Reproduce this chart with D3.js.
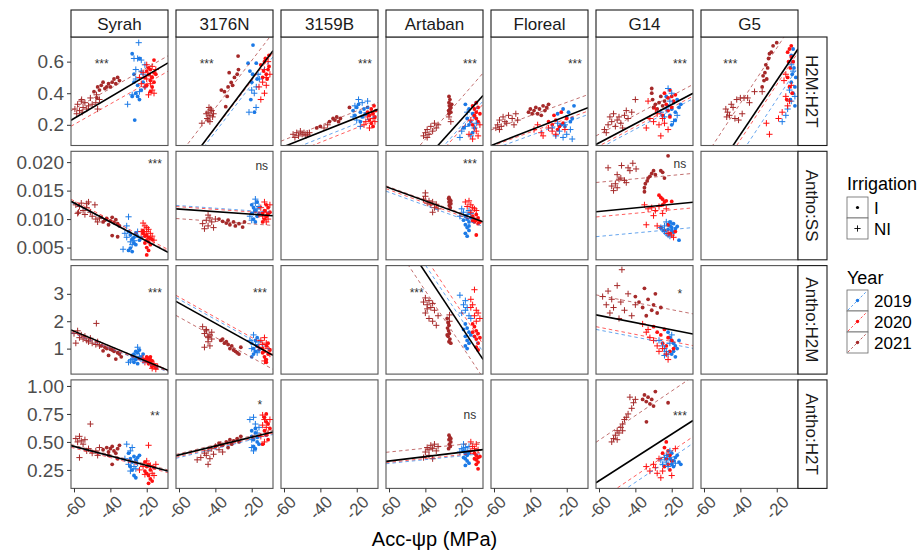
<!DOCTYPE html>
<html>
<head>
<meta charset="utf-8">
<script src="https://cdn.jsdelivr.net/npm/d3@7"></script>
<style>
  body { margin: 0; background: #fff; }
  svg { display: block; font-family: "Liberation Sans", Arial, sans-serif; }
</style>
</head>
<body>
<svg id="chart" width="922" height="553"></svg>
<script>
// ---- categories / ticks ----
const cultivars = ["Syrah", "3176N", "3159B", "Artaban", "Floreal", "G14", "G5"];
const traits = ["H2M:H2T", "Antho:SS", "Antho:H2M", "Antho:H2T"];
const years = ["2019", "2020", "2021"];
const irrigations = ["I", "NI"];
const xTicks = [-60, -40, -20];
const xDomain = [-61.65, -8.3];
const yDomains = [[0.069, 0.756], [0.00285, 0.0219], [0.07, 4.03], [0.085, 1.054]];
const yTicks = [[0.2, 0.4, 0.6], [0.005, 0.010, 0.015, 0.020], [1, 2, 3], [0.25, 0.50, 0.75, 1.00]];
const yTickFormats = [".1f", ".3f", "d", ".2f"];

// ---- points: [year, irrigation, "x,y x,y ..."] (x = Acc-Ψp) ----
const h2mh2t_Syrah = [
  ["2019", "I", "-28,.65 -26.6,.23 -24,.62 -27,.52 -25,.45 -23,.42 -26,.40 -28,.38 -25,.38 -24,.36 -22,.47 -27,.47 -21,.44"],
  ["2019", "NI", "-24.4,.72 -27,.62 -25,.62 -23,.61 -30.5,.33 -26,.49 -24,.41 -28,.39 -22,.52 -26,.55 -21,.58 -23,.54"],
  ["2020", "I", "-16,.61 -18,.55 -17,.50 -19,.52 -16,.47 -18,.48 -20,.45 -17,.44 -15,.52 -19,.56 -16,.53 -18,.41 -21,.50 -20,.54"],
  ["2020", "NI", "-22,.53 -20,.49 -18,.46 -17,.42 -19,.39 -16,.40 -21,.44 -23,.46 -18,.51 -15,.55 -20,.58 -17,.57 -24,.50"],
  ["2021", "I", "-49,.41 -47,.44 -45,.45 -44,.47 -43,.43 -42,.44 -41,.46 -40,.44 -39,.47 -38,.49 -37,.46 -36,.50 -35,.48 -46,.42 -47.4,.37"],
  ["2021", "NI", "-59.5,.30 -58,.33 -57,.29 -56,.35 -55,.31 -54,.34 -53,.30 -52,.32 -51,.37 -50,.33 -48,.34 -47,.30 -46,.36 -58.5,.27 -55.5,.28 -55.8,.36 -47.6,.39"]
];
const h2mh2t_3176N = [
  ["2019", "I", "-19.3,.705 -22,.59 -17.5,.59 -20.5,.36 -18.5,.28 -20,.47 -19.5,.52 -17,.49 -21,.54"],
  ["2019", "NI", "-21.5,.28 -17.6,.31 -18.6,.40 -15.8,.49 -17.5,.44 -20,.42 -16.5,.52"],
  ["2020", "I", "-15,.58 -13,.60 -11,.55 -12,.52 -14,.50 -10.5,.57 -12.5,.62 -13.5,.54 -11.5,.49 -10.5,.64"],
  ["2020", "NI", "-14,.47 -12,.45 -16,.44 -13,.55 -11,.60 -15,.36 -12,.50 -10,.52 -13,.40"],
  ["2021", "I", "-36.7,.42 -32.4,.53 -27.5,.635 -27.3,.55 -33.5,.38 -34.3,.315 -31.3,.468 -30.5,.45 -33,.44 -29.5,.50 -28,.52 -35,.41"],
  ["2021", "NI", "-44,.28 -43,.26 -42,.29 -44.5,.24 -43,.22 -41.5,.25 -42.5,.30 -45,.27 -43.5,.31 -47.4,.21 -41,.27 -44,.23"]
];
const h2mh2t_3159B = [
  ["2019", "I", "-20,.31 -18,.28 -16,.30 -21,.26 -17,.25 -19,.33 -15,.27 -22,.29 -14,.31 -18,.22"],
  ["2019", "NI", "-19,.36 -17,.34 -21,.32 -16,.26 -20,.23 -14,.35 -18,.19 -22,.25"],
  ["2020", "I", "-12,.30 -11,.27 -10,.25 -13,.23 -12,.21 -10.5,.32 -11,.19 -14,.28 -9.5,.29 -13,.26"],
  ["2020", "NI", "-15,.22 -13,.18 -11,.24 -16,.20 -12,.28 -10,.22 -14,.25"],
  ["2021", "I", "-35,.22 -33,.24 -32,.23 -31,.25 -30,.22 -29,.24 -24,.31 -42,.18 -40,.19"],
  ["2021", "NI", "-55,.14 -53,.15 -52,.13 -51,.16 -50,.14 -49,.15 -48,.13 -47,.14 -54,.12 -46,.15 -38,.18 -36,.20"]
];
const h2mh2t_Artaban = [
  ["2019", "I", "-18,.33 -16,.30 -14,.27 -17,.24 -15,.22 -13,.25 -16,.20 -19,.18 -12,.34 -14,.15"],
  ["2019", "NI", "-20,.16 -18,.19 -15,.13 -12,.21 -17,.28 -13,.18 -21,.12"],
  ["2020", "I", "-14,.32 -13,.30 -12,.28 -11,.31 -13,.26 -12,.24 -11,.22 -14,.20 -10,.27 -12,.34 -13,.18"],
  ["2020", "NI", "-16,.14 -14,.11 -12,.16 -10,.20 -15,.23 -11,.13"],
  ["2021", "I", "-27,.38 -26.5,.36 -27,.34 -26.8,.32 -26.5,.30 -27.2,.29 -26,.28 -27,.27 -25.5,.33 -26,.31"],
  ["2021", "NI", "-41,.13 -40,.15 -39,.17 -38,.14 -37,.19 -36,.16 -35,.21 -34,.18 -33,.20 -39,.12 -27,.25 -26,.22"]
];
const h2mh2t_Floreal = [
  ["2019", "I", "-25,.27 -22,.30 -20,.25 -18,.22 -23,.20 -19,.28 -21,.19 -17,.24 -16,.32"],
  ["2019", "NI", "-28,.18 -26,.13 -24,.16 -22,.12 -20,.14 -18,.17 -17,.11 -25,.21 -21,.20"],
  ["2020", "I", "-30,.22 -28,.20 -26,.23 -24,.19 -22,.21 -20,.24 -25,.17 -27,.26 -23,.28"],
  ["2020", "NI", "-38,.17 -36,.20 -34,.15 -33,.13 -30,.18 -28,.16 -26,.14 -21,.17"],
  ["2021", "I", "-41,.28 -40,.30 -38,.29 -37,.31 -36,.27 -35,.30 -33,.32 -32,.29 -31,.31 -30,.33 -34,.26 -39,.27"],
  ["2021", "NI", "-59,.18 -58,.20 -57,.23 -56,.19 -55,.25 -54,.22 -53,.21 -52,.26 -50,.24 -49,.20 -48,.27 -47,.23 -57,.17"]
];
const h2mh2t_G14 = [
  ["2019", "I", "-22,.32 -20,.30 -18,.28 -19,.34 -17,.36 -21,.26 -16,.31 -23,.38 -18,.23 -20,.20 -15,.33"],
  ["2019", "NI", "-26,.28 -24,.25 -22,.43 -20,.40 -19,.22 -23,.30 -17,.26 -21,.35"],
  ["2020", "I", "-24,.40 -22,.37 -21,.42 -20,.38 -19,.35 -23,.33 -22,.29 -25,.26 -20,.31 -18,.39 -21,.25"],
  ["2020", "NI", "-34,.18 -32,.24 -30,.22 -28,.27 -27,.20 -26,.13 -24,.21 -22,.17 -29,.30 -25,.24 -33,.35"],
  ["2021", "I", "-31,.43 -31,.40 -30.5,.36 -29,.33 -28,.30 -27,.34 -26,.38 -25,.32 -30,.31 -24,.35"],
  ["2021", "NI", "-57,.17 -55,.20 -54,.25 -53,.22 -52,.27 -51,.19 -50,.23 -49,.25 -48,.21 -47,.18 -46,.26 -44,.24 -42,.28 -40,.36 -56,.15 -45,.29"]
];
const h2mh2t_G5 = [
  ["2019", "I", "-12,.64 -11,.60 -10.5,.56 -11.5,.52 -12,.47 -10,.44 -11,.40 -12.5,.36 -10,.32 -11,.68 -9.5,.50"],
  ["2019", "NI", "-12,.58 -11,.54 -13,.42 -14,.30 -15,.26 -17,.22 -10,.38 -12,.35"],
  ["2020", "I", "-14,.66 -13,.68 -12,.63 -13.5,.60 -12.5,.56 -14,.50 -13,.44 -11.5,.40 -14.5,.36 -12,.70 -11,.60"],
  ["2020", "NI", "-16,.48 -15,.38 -14,.32 -19,.24 -17,.28 -13,.35 -12,.45 -15,.52 -24,.14 -25.7,.21"],
  ["2021", "I", "-28,.44 -27,.48 -26.5,.53 -26,.58 -25,.56 -24.5,.62 -24,.65 -23,.66 -22,.70 -27.5,.51 -25.5,.49 -20,.72"],
  ["2021", "NI", "-48,.30 -47,.28 -46,.26 -45,.33 -44,.31 -43,.24 -42,.36 -40,.37 -38,.37 -36,.37 -35,.34 -41,.23 -47.5,.25 -39,.27 -32.2,.41 -28,.41"]
];

const anthoss_Syrah = [
  ["2019", "I", "-30,.0078 -29,.0072 -27,.0068 -26,.0075 -28,.0065 -25,.0070 -24,.0063 -27,.0058 -29,.0049 -28,.0043 -26,.0055 -23,.0067 -30,.0045"],
  ["2019", "NI", "-30,.0104 -32,.0075 -31,.0068 -29,.0060 -33,.0047 -27,.0062 -28,.0055 -25,.0078 -31,.0088"],
  ["2020", "I", "-22,.0075 -21,.0070 -20,.0072 -19,.0068 -18,.0066 -20,.0063 -19,.0060 -21,.0058 -18,.0055 -20,.0050 -19,.0045 -20,.0037 -17,.0064 -22,.0080"],
  ["2020", "NI", "-22,.0093 -21,.0088 -20,.0085 -19,.0082 -23,.0078 -18,.0075 -21,.0073 -17,.0070 -20,.0078 -16,.0063"],
  ["2021", "I", "-45,.0103 -43,.0098 -42,.0101 -40,.0097 -38,.0094 -37,.0099 -36,.0092 -35,.0088 -39,.0103 -41,.0090 -39,.0071 -36,.0069 -44,.0095"],
  ["2021", "NI", "-59,.0125 -58,.0110 -57,.0122 -56,.0128 -55,.0115 -54,.0108 -53,.0120 -52,.0130 -51,.0112 -50,.0105 -48,.0100 -47,.0095 -46,.0102 -53,.0127 -57.5,.0112 -48.5,.0125"]
];
const anthoss_3176N = [
  ["2019", "I", "-20,.0110 -19,.0120 -18,.0115 -17,.0105 -19,.0100 -18,.0095 -16,.0110 -20,.0125 -17,.0130"],
  ["2019", "NI", "-21,.0105 -19,.0112 -18,.0128 -17,.0118 -20,.0098 -16,.0122 -18,.0135"],
  ["2020", "I", "-14,.0110 -13,.0115 -12,.0105 -11,.0120 -13,.0100 -12,.0125 -14,.0095 -11,.0108 -10,.0112"],
  ["2020", "NI", "-15,.0120 -13,.0130 -12,.0112 -11,.0100 -14,.0105 -10,.0125 -12,.0095 -16,.0108"],
  ["2021", "I", "-38,.0100 -36,.0096 -34,.0093 -32,.0090 -30,.0095 -29,.0088 -27,.0092 -25,.0086 -33,.0098 -24,.0095"],
  ["2021", "NI", "-47,.0092 -45,.0098 -44,.0088 -43,.0102 -42,.0095 -41,.0085 -40,.0100 -44,.0107 -46,.0083"]
];
const anthoss_Artaban = [
  ["2019", "I", "-18,.0105 -17,.0100 -16,.0095 -18,.0090 -17,.0085 -16,.0080 -18,.0075 -17,.0070 -15,.0102 -19,.0098 -16,.0088"],
  ["2019", "NI", "-20,.0118 -19,.0112 -17,.0108 -15,.0110 -16,.0115 -21,.0105"],
  ["2020", "I", "-14,.0105 -13,.0100 -12,.0098 -11,.0102 -13,.0095 -12,.0108 -14,.0097 -10,.0095 -11,.0092 -12,.0072"],
  ["2020", "NI", "-18,.0130 -16,.0132 -15,.0125 -14,.0120 -13,.0118 -12,.0115 -15,.0112 -17,.0122"],
  ["2021", "I", "-27,.0138 -26.5,.0134 -27,.0130 -26,.0127 -26.8,.0124 -26.3,.0120 -27.2,.0136 -26,.0132"],
  ["2021", "NI", "-41,.0135 -40,.0140 -39,.0128 -38,.0132 -37,.0125 -36,.0130 -35,.0120 -34,.0126 -33,.0118 -40,.0146 -36,.0112"]
];
const anthoss_G14 = [
  ["2019", "I", "-22,.0090 -21,.0088 -20,.0085 -19,.0092 -18,.0083 -20,.0080 -19,.0077 -21,.0095 -17,.0087 -16,.0063 -22,.0082"],
  ["2019", "NI", "-26,.0085 -25,.0082 -24,.0078 -23,.0075 -22,.0072 -24,.0088 -21,.0070 -20,.0092 -23,.0095"],
  ["2020", "I", "-27,.0142 -26,.0138 -25,.0135 -24,.0130 -25,.0125 -23,.0132 -20,.0131 -26,.0085 -24,.0080 -21,.0075 -18,.0078 -22,.0090"],
  ["2020", "NI", "-35,.0125 -33,.0118 -31,.0120 -29,.0115 -27,.0122 -25,.0110 -23,.0118 -30,.0106 -34,.0090 -28,.0088 -22,.0075 -19,.0068 -20,.0072"],
  ["2021", "I", "-35,.0155 -34.5,.0162 -33.5,.0167 -33,.0172 -32,.0175 -31,.0180 -30,.0185 -29,.0178 -26,.0185 -25,.0182 -22,.0211 -24,.0172 -35,.0148"],
  ["2021", "NI", "-53,.0158 -51,.0162 -52,.0150 -50,.0155 -49,.0170 -48,.0172 -47.6,.0194 -46,.0168 -44,.0190 -43,.0185 -41.4,.0198 -39.6,.0188 -55,.0190 -50,.0178 -45,.0164"]
];

const anthoh2m_Syrah = [
  ["2019", "I", "-28,0.75 -27,0.80 -26,0.90 -25,0.85 -24,0.95 -23,0.70 -26,0.60 -27,0.50 -25,0.45 -22,0.80 -24,0.65"],
  ["2019", "NI", "-29,0.55 -28,0.60 -30,0.50 -27,0.65 -26,0.70 -25,1.05 -24,0.72 -22,0.55"],
  ["2020", "I", "-20,0.70 -19,0.65 -18,0.60 -20,0.55 -17,0.55 -18,0.50 -19,0.45 -16,0.40 -17,0.35 -15,0.30 -21,0.60 -18,0.70"],
  ["2020", "NI", "-22,0.65 -20,0.60 -19,0.50 -18,0.42 -16,0.45 -14,0.35 -15,0.25 -21,0.50 -17,0.28"],
  ["2021", "I", "-45,1.10 -43,1.05 -42,1.00 -40,0.98 -39,0.95 -38,0.90 -36,0.85 -35,0.80 -41,0.75 -37,0.62 -34,0.70 -44,0.92"],
  ["2021", "NI", "-60,1.55 -59,1.20 -58,1.65 -57,1.40 -56,1.50 -55,1.35 -54,1.45 -53,1.30 -52,1.25 -51,1.38 -50,1.20 -48,1.15 -47,1.25 -46,1.10 -47.7,1.92"]
];
const anthoh2m_3176N = [
  ["2019", "I", "-20,1.20 -19,1.00 -18,0.90 -17,1.10 -19,0.80 -18,1.30 -16,0.95 -20,0.70 -17,1.40"],
  ["2019", "NI", "-21,1.30 -19,1.50 -18,1.15 -17,0.85 -20,1.00 -16,1.25"],
  ["2020", "I", "-14,1.00 -13,0.90 -12,1.10 -11,0.80 -13,0.70 -12,0.60 -14,0.85 -11,1.20 -10,0.95 -12,0.50"],
  ["2020", "NI", "-15,1.30 -13,1.40 -12,1.20 -11,1.00 -14,1.15 -10,0.80 -13,0.55 -16,1.05"],
  ["2021", "I", "-37,1.30 -36,1.35 -35,1.20 -33,1.15 -32,1.00 -30,0.95 -29,0.90 -28,0.85 -27,0.80 -26,1.05 -31,1.10 -34,1.25"],
  ["2021", "NI", "-47,1.80 -46,1.55 -45,1.65 -44,1.40 -43,1.50 -42,1.35 -44,1.25 -43,1.10 -45,1.70 -42,1.60 -44,1.45 -46,1.05"]
];
const anthoh2m_Artaban = [
  ["2019", "I", "-18,1.90 -17,1.75 -16,1.60 -18,1.45 -17,1.30 -16,1.20 -18,1.10 -17,1.00 -19,1.70 -15,1.50"],
  ["2019", "NI", "-21,2.95 -19,2.60 -18,2.40 -17,2.50 -16,2.20 -20,2.30 -18,2.75 -15,2.10"],
  ["2020", "I", "-14,1.90 -13,1.80 -12,1.65 -11,1.55 -13,1.45 -12,1.35 -11,1.20 -12,1.05 -10,1.40 -14,1.60 -11,0.95"],
  ["2020", "NI", "-13,3.15 -15,2.80 -14,2.60 -12,2.40 -11,2.30 -13,2.20 -12,2.00 -15,2.50 -10,2.10"],
  ["2021", "I", "-28,2.10 -27.5,1.95 -27,1.85 -27.8,1.75 -27.2,1.65 -26.8,1.55 -27.5,1.45 -26.5,1.35 -27,1.25 -26,1.20 -28,1.50"],
  ["2021", "NI", "-41,2.70 -40,2.85 -39,2.60 -38,2.75 -37,2.50 -36,2.65 -35,2.40 -40,2.30 -38,2.10 -36,2.00 -34,1.85 -33,2.20 -39,2.45 -26.7,2.23 -26.7,2.00"]
];
const anthoh2m_G14 = [
  ["2019", "I", "-22,1.60 -21,1.40 -20,1.30 -19,1.20 -18,1.10 -17,1.00 -19,0.90 -20,0.80 -16,1.30 -18,0.70"],
  ["2019", "NI", "-27,1.30 -25,1.10 -24,1.00 -23,0.90 -22,0.80 -21,1.20 -20,1.50 -24,0.75"],
  ["2020", "I", "-30,1.80 -28,1.60 -26,1.50 -24,1.70 -22,1.40 -25,1.20 -23,1.10 -20,1.30 -21,0.90 -19,1.00"],
  ["2020", "NI", "-36,1.90 -34,1.60 -32,1.40 -30,1.30 -28,1.10 -27,0.90 -25,1.00 -23,0.80 -22,0.60 -33,1.70"],
  ["2021", "I", "-40,2.90 -38,2.70 -36,2.50 -35,3.20 -33,2.80 -31,2.40 -30,2.60 -28,2.30 -26,2.50 -34,2.20 -29,3.00"],
  ["2021", "NI", "-58,2.90 -56,2.60 -55,3.10 -53,2.80 -52,2.50 -50,3.30 -48,2.70 -47.4,3.88 -46,2.40 -44,3.00 -42,2.20 -40,2.60 -54,2.30 -49,2.10"]
];

const anthoh2t_Syrah = [
  ["2019", "I", "-30,.40 -29,.35 -28,.32 -27,.37 -26,.34 -25,.36 -28,.25 -27,.20 -26,.18 -29,.28 -24,.38"],
  ["2019", "NI", "-31,.48 -30,.30 -29,.42 -28,.45 -27,.28 -26,.26 -25,.31 -32,.35 -29,.24"],
  ["2020", "I", "-21,.32 -20,.28 -19,.30 -18,.25 -20,.22 -19,.20 -18,.17 -17,.15 -19,.13 -16,.27 -21,.24"],
  ["2020", "NI", "-24,.25 -22,.28 -21,.21 -20,.33 -18,.29 -17,.22 -19,.47 -16,.20 -15,.30"],
  ["2021", "I", "-44,.43 -42,.45 -41,.41 -40,.44 -39,.46 -38,.42 -37,.40 -36,.44 -35,.47 -39,.30 -41,.38 -36,.35"],
  ["2021", "NI", "-59,.53 -58,.50 -57,.55 -56,.51 -55,.48 -54,.52 -57,.36 -52,.44 -50,.40 -48,.42 -47,.38 -46,.45 -51,.66 -53,.42"]
];
const anthoh2t_3176N = [
  ["2019", "I", "-20,.55 -19,.52 -18,.58 -17,.50 -19,.46 -18,.62 -17,.54 -16,.48 -20,.60 -18,.44"],
  ["2019", "NI", "-21,.70 -19,.72 -18,.66 -17,.58 -20,.45 -19,.42 -16,.63 -20,.52"],
  ["2020", "I", "-13,.72 -12,.68 -11,.66 -13,.60 -12,.56 -11,.52 -14,.48 -10,.62 -12,.75"],
  ["2020", "NI", "-14,.74 -13,.70 -12,.63 -11,.58 -15,.55 -14,.65 -10,.70 -13,.50"],
  ["2021", "I", "-40,.46 -38,.49 -36,.47 -34,.50 -32,.52 -31,.48 -30,.51 -28,.53 -27,.50 -26,.55 -33,.45"],
  ["2021", "NI", "-48,.36 -46,.40 -45,.38 -44,.42 -43,.35 -42,.44 -41,.39 -40,.46 -38,.43 -37,.48 -36,.41 -44,.30 -50,.34"]
];
const anthoh2t_Artaban = [
  ["2019", "I", "-19,.42 -18,.40 -17,.38 -18,.35 -17,.33 -16,.31 -18,.29 -19,.36 -16,.40"],
  ["2019", "NI", "-20,.44 -19,.48 -18,.45 -17,.42 -16,.46 -21,.41"],
  ["2020", "I", "-13,.40 -12,.38 -11,.36 -12,.34 -11,.32 -13,.35 -10,.37 -12,.30 -11,.26"],
  ["2020", "NI", "-15,.50 -14,.46 -13,.44 -12,.48 -15,.42 -11,.43"],
  ["2021", "I", "-27,.56 -26.5,.54 -27,.52 -26,.50 -26.8,.48 -26.3,.46 -27.2,.44 -26,.53"],
  ["2021", "NI", "-40,.41 -39,.45 -38,.43 -37,.47 -36,.44 -35,.48 -34,.42 -33,.46 -38,.38 -36,.35 -41,.36"]
];
const anthoh2t_G14 = [
  ["2019", "I", "-22,.38 -21,.35 -20,.40 -19,.33 -18,.36 -20,.30 -17,.38 -16,.32 -19,.28 -15,.30"],
  ["2019", "NI", "-26,.34 -25,.30 -24,.36 -23,.32 -22,.28 -21,.42 -20,.34 -18,.31 -23,.38"],
  ["2020", "I", "-24,.45 -23,.50 -22,.42 -21,.38 -23,.35 -22,.30 -24,.28 -21,.25 -25,.40 -20,.33"],
  ["2020", "NI", "-34,.28 -32,.24 -30,.30 -28,.22 -27,.35 -26,.18 -25,.24 -20,.20 -18,.44 -29,.27"],
  ["2021", "I", "-36,.88 -35,.92 -34,.86 -33,.90 -32,.84 -31,.88 -30,.82 -33.9,.68 -22,.85 -29,.95"],
  ["2021", "NI", "-53,.50 -52,.53 -51,.56 -50,.60 -49,.58 -48,.63 -47,.66 -46,.70 -45,.72 -44,.75 -42,.80 -41,.85 -40,.88 -50,.52 -47,.60 -43,.90"]
];

// ---- fitted lines: [group, intercept, slope]; "all" = overall fit ----
const fit_h2mh2t_Syrah = [["2020", 0.593, 0.00652], ["2021", 0.691, 0.00652], ["all", 0.649, 0.00682]];
const fit_h2mh2t_3176N = [["2019", 0.755, 0.015], ["2020", 0.78, 0.015], ["2021", 0.907, 0.015], ["all", 0.796, 0.0153]];
const fit_h2mh2t_3159B = [["2019", 0.30, 0.0046], ["2020", 0.273, 0.0046], ["2021", 0.38, 0.0046], ["all", 0.336, 0.00456]];
const fit_h2mh2t_Artaban = [["2019", 0.46, 0.0132], ["2020", 0.44, 0.0132], ["2021", 0.637, 0.0132], ["all", 0.491, 0.01275]];
const fit_h2mh2t_Floreal = [["2019", 0.30, 0.0042], ["2020", 0.322, 0.0042], ["2021", 0.426, 0.0042], ["all", 0.346, 0.0045]];
const fit_h2mh2t_G14 = [["2019", 0.416, 0.0061], ["2020", 0.432, 0.0061], ["2021", 0.506, 0.0061], ["all", 0.450, 0.00607]];
const fit_h2mh2t_G5 = [["2019", 0.71, 0.0175], ["2020", 0.804, 0.0175], ["2021", 1.036, 0.0175], ["all", 0.822, 0.0171]];
const fit_anthoss_Syrah = [["2019", 0.0028, -0.000165], ["2020", 0.0033, -0.000165], ["2021", 0.0030, -0.000165], ["all", 0.00277, -0.000168]];
const fit_anthoss_3176N = [["2019", 0.0110, -0.0000227], ["2020", 0.0108, -0.0000227], ["2021", 0.0087, -0.0000227], ["all", 0.0104, -0.0000227]];
const fit_anthoss_Artaban = [["2019", 0.00777, -0.0001157], ["2020", 0.0082, -0.0001157], ["2021", 0.0087, -0.0001157], ["all", 0.00856, -0.0001157]];
const fit_anthoss_G14 = [["2019", 0.00876, 0.00003], ["2020", 0.01222, 0.00003], ["2021", 0.01827, 0.00003], ["all", 0.01322, 0.0000312]];
const fit_anthoh2m_Syrah = [["2019", -0.08, -0.0272], ["2020", -0.06, -0.0272], ["2021", 0.0, -0.0272], ["all", -0.024, -0.02766]];
const fit_anthoh2m_3176N = [["2019", 0.588, -0.0369], ["2020", 0.668, -0.0369], ["2021", -0.063, -0.0369], ["all", 0.449, -0.0369]];
const fit_anthoh2m_Artaban = [["2019", 0.05, -0.1], ["2020", 0.33, -0.1], ["2021", -0.891, -0.1], ["all", -0.225, -0.1001]];
const fit_anthoh2m_G14 = [["2019", 0.90, -0.013], ["2020", 1.00, -0.013], ["2021", 2.16, -0.013], ["all", 1.427, -0.01304]];
const fit_anthoh2t_Syrah = [["2019", 0.20, -0.00425], ["2020", 0.19, -0.00425], ["2021", 0.215, -0.00425], ["all", 0.205, -0.00425]];
const fit_anthoh2t_3176N = [["2019", 0.60, 0.004], ["2020", 0.61, 0.004], ["2021", 0.635, 0.004], ["all", 0.622, 0.00397]];
const fit_anthoh2t_Artaban = [["2019", 0.41, 0.0017], ["2020", 0.42, 0.0017], ["2021", 0.512, 0.0017], ["all", 0.448, 0.00198]];
const fit_anthoh2t_G14 = [["2019", 0.579, 0.011], ["2020", 0.638, 0.011], ["2021", 1.175, 0.011], ["all", 0.778, 0.01042]];

// ---- significance labels: [trait, cultivar, text, x, y] ----
const sigLabels = [
  ["H2M:H2T", "Syrah", "***", -44.8, 0.562], ["H2M:H2T", "3176N", "***", -44.8, 0.562],
  ["H2M:H2T", "3159B", "***", -15.5, 0.562], ["H2M:H2T", "Artaban", "***", -15.5, 0.562],
  ["H2M:H2T", "Floreal", "***", -15.5, 0.562], ["H2M:H2T", "G14", "***", -15.5, 0.562],
  ["H2M:H2T", "G5", "***", -45.5, 0.562],
  ["Antho:SS", "Syrah", "***", -15.5, 0.0189], ["Antho:SS", "3176N", "ns", -14.5, 0.0186],
  ["Antho:SS", "Artaban", "***", -15.5, 0.0189], ["Antho:SS", "G14", "ns", -15.5, 0.0189],
  ["Antho:H2M", "Syrah", "***", -15.5, 2.9], ["Antho:H2M", "3176N", "***", -15.5, 2.9],
  ["Antho:H2M", "Artaban", "***", -44.8, 2.9], ["Antho:H2M", "G14", "*", -15.5, 2.85],
  ["Antho:H2T", "Syrah", "**", -15.5, 0.70], ["Antho:H2T", "3176N", "*", -15.5, 0.795],
  ["Antho:H2T", "Artaban", "ns", -15.5, 0.705], ["Antho:H2T", "G14", "***", -15.5, 0.70]
];

const panels = {
  "H2M:H2T|Syrah": [h2mh2t_Syrah, fit_h2mh2t_Syrah],
  "H2M:H2T|3176N": [h2mh2t_3176N, fit_h2mh2t_3176N],
  "H2M:H2T|3159B": [h2mh2t_3159B, fit_h2mh2t_3159B],
  "H2M:H2T|Artaban": [h2mh2t_Artaban, fit_h2mh2t_Artaban],
  "H2M:H2T|Floreal": [h2mh2t_Floreal, fit_h2mh2t_Floreal],
  "H2M:H2T|G14": [h2mh2t_G14, fit_h2mh2t_G14],
  "H2M:H2T|G5": [h2mh2t_G5, fit_h2mh2t_G5],
  "Antho:SS|Syrah": [anthoss_Syrah, fit_anthoss_Syrah],
  "Antho:SS|3176N": [anthoss_3176N, fit_anthoss_3176N],
  "Antho:SS|Artaban": [anthoss_Artaban, fit_anthoss_Artaban],
  "Antho:SS|G14": [anthoss_G14, fit_anthoss_G14],
  "Antho:H2M|Syrah": [anthoh2m_Syrah, fit_anthoh2m_Syrah],
  "Antho:H2M|3176N": [anthoh2m_3176N, fit_anthoh2m_3176N],
  "Antho:H2M|Artaban": [anthoh2m_Artaban, fit_anthoh2m_Artaban],
  "Antho:H2M|G14": [anthoh2m_G14, fit_anthoh2m_G14],
  "Antho:H2T|Syrah": [anthoh2t_Syrah, fit_anthoh2t_Syrah],
  "Antho:H2T|3176N": [anthoh2t_3176N, fit_anthoh2t_3176N],
  "Antho:H2T|Artaban": [anthoh2t_Artaban, fit_anthoh2t_Artaban],
  "Antho:H2T|G14": [anthoh2t_G14, fit_anthoh2t_G14]
};

// ---- layout ----
const PL = 71, PT = 37, PW = 97, PH = 108.5, STEPX = 105, STEPY = 114.3;
const STRIP_TOP = 10, STRIP_R = 29;
const color = d3.scaleOrdinal().domain(years).range(["#1c7ae6", "#ff1010", "#a52a2a"]);
const parsePts = s => s.trim().split(/\s+/).map(p => p.split(",").map(Number));
const plusPath = "M-3.1,0H3.1M0,-3.1V3.1";

const svg = d3.select("#chart");
const x = d3.scaleLinear().domain(xDomain).range([0, PW]);

traits.forEach((trait, r) => {
  const y = d3.scaleLinear().domain(yDomains[r]).range([PH, 0]);
  const top = PT + r * STEPY;

  cultivars.forEach((cv, c) => {
    const left = PL + c * STEPX;
    const g = svg.append("g").attr("transform", `translate(${left},${top})`);
    g.append("rect").attr("width", PW).attr("height", PH).attr("fill", "#fff");

    const clipId = `clip-${r}-${c}`;
    g.append("clipPath").attr("id", clipId)
      .append("rect").attr("width", PW).attr("height", PH);

    const entry = panels[`${trait}|${cv}`];
    if (entry) {
      const [pts, fits] = entry;
      const rows = [];
      pts.forEach(([yr, irr, s]) => parsePts(s).forEach(([vx, vy]) => rows.push({ yr, irr, vx, vy })));
      rows.sort((a, b) => years.indexOf(a.yr) - years.indexOf(b.yr));

      const pg = g.append("g");
      pg.selectAll("circle").data(rows.filter(d => d.irr === "I")).enter()
        .append("circle")
        .attr("cx", d => x(d.vx)).attr("cy", d => y(d.vy)).attr("r", 1.9)
        .attr("fill", d => color(d.yr));
      pg.selectAll("path").data(rows.filter(d => d.irr === "NI")).enter()
        .append("path")
        .attr("d", plusPath)
        .attr("transform", d => `translate(${x(d.vx)},${y(d.vy)})`)
        .attr("stroke", d => color(d.yr)).attr("stroke-width", 1).attr("fill", "none");

      const lg = g.append("g").attr("clip-path", `url(#${clipId})`);
      fits.forEach(([grp, a, b]) => {
        const isAll = grp === "all";
        lg.append("line")
          .attr("x1", x(xDomain[0])).attr("y1", y(a + b * xDomain[0]))
          .attr("x2", x(xDomain[1])).attr("y2", y(a + b * xDomain[1]))
          .attr("stroke", isAll ? "#000" : color(grp))
          .attr("stroke-width", isAll ? 1.6 : 0.9)
          .attr("stroke-dasharray", isAll ? null : "3.5,3")
          .attr("opacity", isAll ? 1 : 0.75);
      });
    }

    sigLabels.filter(s => s[0] === trait && s[1] === cv).forEach(s => {
      g.append("text")
        .attr("x", x(s[3])).attr("y", y(s[4]))
        .attr("text-anchor", "middle")
        .attr("font-size", 12).attr("fill", "#333")
        .text(s[2]);
    });

    g.append("rect").attr("width", PW).attr("height", PH)
      .attr("fill", "none").attr("stroke", "#555").attr("stroke-width", 1.1);

    // top strips
    if (r === 0) {
      const sg = svg.append("g").attr("transform", `translate(${left},${STRIP_TOP})`);
      sg.append("rect").attr("width", PW).attr("height", PT - STRIP_TOP)
        .attr("fill", "#fff").attr("stroke", "#1a1a1a").attr("stroke-width", 1.1);
      sg.append("text").attr("x", PW / 2).attr("y", (PT - STRIP_TOP) / 2)
        .attr("dy", "0.36em").attr("text-anchor", "middle")
        .attr("font-size", 17).attr("fill", "#1a1a1a").text(cv);
    }

    // y axis on first column
    if (c === 0) {
      const ax = g.append("g").call(d3.axisLeft(y).tickValues(yTicks[r])
        .tickFormat(d3.format(yTickFormats[r])).tickSize(4).tickPadding(3));
      ax.select(".domain").remove();
      ax.selectAll("line").attr("stroke", "#333");
      ax.selectAll("text").attr("font-size", 19).attr("fill", "#4d4d4d")
        .attr("font-family", "'Liberation Sans', Arial, sans-serif");
    }

    // x axis on bottom row
    if (r === traits.length - 1) {
      const ax = g.append("g").attr("transform", `translate(0,${PH})`)
        .call(d3.axisBottom(x).tickValues(xTicks).tickSize(4).tickFormat(d => String(d)));
      ax.select(".domain").remove();
      ax.selectAll("line").attr("stroke", "#333");
      ax.selectAll("text")
        .attr("font-size", 17).attr("fill", "#4d4d4d")
        .attr("font-family", "'Liberation Sans', Arial, sans-serif")
        .attr("text-anchor", "end")
        .attr("y", 0).attr("dy", "0.72em")
        .attr("transform", "translate(4,6) rotate(-45)");
    }
  });

  // right strips
  const rg = svg.append("g").attr("transform", `translate(${PL + 6 * STEPX + PW},${top})`);
  rg.append("rect").attr("width", STRIP_R).attr("height", PH)
    .attr("fill", "#fff").attr("stroke", "#1a1a1a").attr("stroke-width", 1.1);
  rg.append("text")
    .attr("transform", `translate(${STRIP_R / 2},${PH / 2}) rotate(90)`)
    .attr("dy", "0.36em").attr("text-anchor", "middle")
    .attr("font-size", 17).attr("fill", "#1a1a1a").text(trait);
});

// x-axis title
svg.append("text")
  .attr("x", PL + (6 * STEPX + PW) / 2).attr("y", 546)
  .attr("text-anchor", "middle").attr("font-size", 20).attr("fill", "#000")
  .text("Acc-ψp (MPa)");

// ---- legends ----
const KEY = 21, LX = 847;
const leg = svg.append("g");
leg.append("text").attr("x", LX).attr("y", 190).attr("font-size", 18).text("Irrigation");
irrigations.forEach((irr, i) => {
  const kg = leg.append("g").attr("transform", `translate(${LX},${197 + i * KEY})`);
  kg.append("rect").attr("width", KEY).attr("height", KEY)
    .attr("fill", "#fff").attr("stroke", "#666").attr("stroke-width", 0.8);
  if (irr === "I") {
    kg.append("circle").attr("cx", KEY / 2).attr("cy", KEY / 2).attr("r", 1.6).attr("fill", "#000");
  } else {
    kg.append("path").attr("d", plusPath).attr("transform", `translate(${KEY / 2},${KEY / 2})`)
      .attr("stroke", "#000").attr("stroke-width", 0.9);
  }
  kg.append("text").attr("x", KEY + 6).attr("y", KEY / 2).attr("dy", "0.36em")
    .attr("font-size", 17).text(irr);
});

leg.append("text").attr("x", LX).attr("y", 284).attr("font-size", 18).text("Year");
years.forEach((yr, i) => {
  const kg = leg.append("g").attr("transform", `translate(${LX},${290 + i * KEY})`);
  kg.append("rect").attr("width", KEY).attr("height", KEY)
    .attr("fill", "#fff").attr("stroke", "#666").attr("stroke-width", 0.8);
  kg.append("line").attr("x1", 1).attr("y1", KEY - 1).attr("x2", KEY - 1).attr("y2", 1)
    .attr("stroke", color(yr)).attr("stroke-width", 0.9).attr("stroke-dasharray", "2.5,2").attr("opacity", 0.8);
  kg.append("circle").attr("cx", KEY / 2).attr("cy", KEY / 2).attr("r", 1.7).attr("fill", color(yr));
  kg.append("text").attr("x", KEY + 6).attr("y", KEY / 2).attr("dy", "0.36em")
    .attr("font-size", 17).text(yr);
});
</script>
</body>
</html>
